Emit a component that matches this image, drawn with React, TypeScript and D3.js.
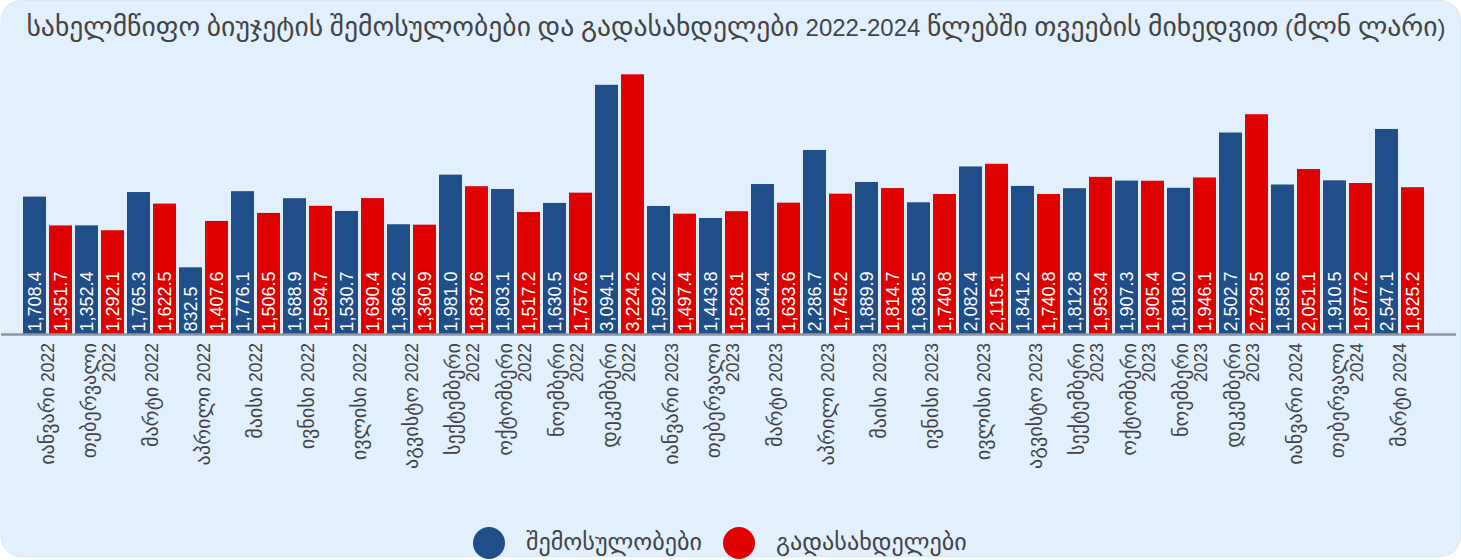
import React from "react";
import * as d3 from "d3";

const months = [
  "იანვარი 2022", "თებერვალი 2022", "მარტი 2022", "აპრილი 2022", "მაისი 2022", "ივნისი 2022",
  "ივლისი 2022", "აგვისტო 2022", "სექტემბერი 2022", "ოქტომბერი 2022", "ნოემბერი 2022", "დეკემბერი 2022",
  "იანვარი 2023", "თებერვალი 2023", "მარტი 2023", "აპრილი 2023", "მაისი 2023", "ივნისი 2023",
  "ივლისი 2023", "აგვისტო 2023", "სექტემბერი 2023", "ოქტომბერი 2023", "ნოემბერი 2023", "დეკემბერი 2023",
  "იანვარი 2024", "თებერვალი 2024", "მარტი 2024",
];

const revenues = [
  1708.4, 1352.4, 1765.3, 832.5, 1776.1, 1688.9, 1530.7, 1366.2, 1981.0, 1803.1, 1630.5, 3094.1,
  1592.2, 1443.8, 1864.4, 2286.7, 1889.9, 1638.5, 2082.4, 1841.2, 1812.8, 1907.3, 1818.0, 2502.7,
  1858.6, 1910.5, 2547.1,
];

const payments = [
  1351.7, 1292.1, 1622.5, 1407.6, 1506.5, 1594.7, 1690.4, 1360.9, 1837.6, 1517.2, 1757.6, 3224.2,
  1497.4, 1528.1, 1633.6, 1745.2, 1814.7, 1740.8, 2115.1, 1740.8, 1953.4, 1905.4, 1946.1, 2729.5,
  2051.1, 1877.2, 1825.2,
];

const seriesNames = ["შემოსულობები", "გადასახდელები"];
const colors = ["#1f4e89", "#df0000"];
const title = "სახელმწიფო ბიუჯეტის შემოსულობები და გადასახდელები 2022-2024 წლებში თვეების მიხედვით (მლნ ლარი)";

const W = 1461;
const H = 560;
const FONT = "'Liberation Sans', Arial, 'DejaVu Sans', sans-serif";
const GEO_FONT = "'DejaVu Sans', sans-serif";
const GEO_SCALE = 1.15;

function MixedText({ s, fs }: { s: string; fs: number }) {
  const parts: { t: string; geo: boolean }[] = [];
  const re = /[\u10A0-\u10FF]+/g;
  let last = 0;
  let m: RegExpExecArray | null;
  while ((m = re.exec(s)) !== null) {
    if (m.index > last) parts.push({ t: s.slice(last, m.index), geo: false });
    parts.push({ t: m[0], geo: true });
    last = m.index + m[0].length;
  }
  if (last < s.length) parts.push({ t: s.slice(last), geo: false });
  return (
    <>
      {parts.map((p, i) =>
        p.geo ? (
          <tspan key={i} fontFamily={GEO_FONT} fontSize={fs * GEO_SCALE}>
            {p.t}
          </tspan>
        ) : (
          <tspan key={i} fontFamily={FONT} fontSize={fs}>
            {p.t}
          </tspan>
        )
      )}
    </>
  );
}

export default function App() {
  const baseY = 334.5;
  const x0 = d3.scaleBand<number>().domain(d3.range(months.length)).range([21.5, 1425.5]).padding(0);
  const x1 = d3
    .scaleBand<string>()
    .domain(["rev", "pay"])
    .range([0, x0.bandwidth()])
    .paddingInner(3 / 26)
    .paddingOuter(1.5 / 26);
  const y = d3.scaleLinear().domain([0, 3500]).range([baseY, baseY - 3500 * 0.0807]);
  const fmt = d3.format(",.1f");

  const seriesData = [revenues, payments];
  const keys = ["rev", "pay"];

  return (
    <div style={{ position: "fixed", left: 0, top: 0 }}>
      <svg width={W} height={H} style={{ display: "block", fontFamily: FONT }}>
        <rect x={0} y={0} width={W} height={H} fill="#ffffff" />
        <rect x={1} y={0.5} width={1459.5} height={556} rx={20} ry={20} fill="#e2f0fd" stroke="#d9e8f6" strokeWidth={1} />
        <text x={736} y={36} textAnchor="middle" fill="#444444">
          <MixedText s={title} fs={24} />
        </text>

        {months.map((m, i) => (
          <g key={i} transform={`translate(${x0(i)},0)`}>
            {seriesData.map((arr, s) => {
              const v = arr[i];
              const bx = x1(keys[s])!;
              const bw = x1.bandwidth();
              const cx = bx + bw / 2;
              return (
                <g key={s}>
                  <rect x={bx} y={y(v)} width={bw} height={baseY - y(v)} fill={colors[s]} />
                  <text
                    transform={`translate(${cx + 6.5},${baseY - 3}) rotate(-90)`}
                    fontSize={18}
                    fill="#ffffff"
                    textAnchor="start"
                  >
                    {fmt(v)}
                  </text>
                </g>
              );
            })}
          </g>
        ))}

        <line x1={1} x2={1456} y1={baseY} y2={baseY} stroke="#8e959c" strokeWidth={2.5} />

        {months.map((m, i) => {
          const cx = x0(i)! + x0.bandwidth() / 2;
          const parts = m.split(" ");
          const wrap = parts[0].length > 7;
          const lines = wrap ? parts : [m];
          const lh = 19;
          return (
            <text
              key={i}
              transform={`translate(${cx},343) rotate(-90)`}
              textAnchor="end"
              fill="#444444"
            >
              {lines.map((ln, k) => (
                <tspan key={k} x={0} y={(k - (lines.length - 1) / 2) * lh + 6}>
                  <MixedText s={ln} fs={17.5} />
                </tspan>
              ))}
            </text>
          );
        })}

        {seriesNames.map((n, s) => {
          const cx = s === 0 ? 489 : 739;
          return (
            <g key={s}>
              <circle cx={cx} cy={543} r={16} fill={colors[s]} />
              <text x={cx + 37} y={550} fill="#444444">
                <MixedText s={n} fs={21} />
              </text>
            </g>
          );
        })}
      </svg>
    </div>
  );
}
